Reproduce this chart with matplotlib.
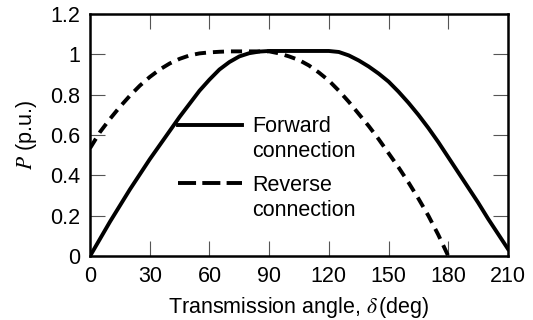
import matplotlib
matplotlib.use('Agg')
import matplotlib.pyplot as plt
from matplotlib.lines import Line2D
import numpy as np

plt.rc('font', family='Liberation Sans', size=15.5)
plt.rc('mathtext', fontset='stix')
plt.rc('lines', scale_dashes=False)

# transmission angle (deg) and power (p.u.)
delta_fwd = np.arange(0, 211, 5)
p_fwd = [0.00, 0.085, 0.17, 0.25, 0.33, 0.405, 0.48, 0.55, 0.62, 0.69,
         0.755, 0.82, 0.875, 0.925, 0.962, 0.99, 1.006, 1.014, 1.017, 1.017,
         1.017, 1.017, 1.017, 1.017, 1.017, 1.012, 0.995, 0.97, 0.94, 0.905,
         0.865, 0.815, 0.76, 0.7, 0.635, 0.565, 0.49, 0.415, 0.34, 0.265,
         0.185, 0.11, 0.035]

delta_rev = np.arange(0, 181, 5)
p_rev = [0.535, 0.615, 0.68, 0.74, 0.795, 0.845, 0.888, 0.925, 0.955, 0.978,
         0.995, 1.005, 1.01, 1.013, 1.015, 1.015, 1.015, 1.015, 1.015, 1.005,
         0.99, 0.972, 0.945, 0.91, 0.87, 0.82, 0.765, 0.705, 0.645, 0.58,
         0.51, 0.44, 0.365, 0.285, 0.2, 0.105, 0.0]

xticks = [0, 30, 60, 90, 120, 150, 180, 210]
yticks = [0, 0.2, 0.4, 0.6, 0.8, 1.0, 1.2]
ytick_labels = ['0', '0.2', '0.4', '0.6', '0.8', '1', '1.2']

fig = plt.figure(figsize=(5.33, 3.2), dpi=100)
ax = fig.add_axes([0.169, 0.2, 0.784, 0.756])

ax.plot(delta_fwd, p_fwd, color='k', lw=2.8, solid_joinstyle='round')
ax.plot(delta_rev, p_rev, color='k', lw=2.8, dashes=(8, 5))

ax.set_xlim(0, 210)
ax.set_ylim(0, 1.2)
ax.set_xticks(xticks)
ax.set_yticks(yticks)
ax.set_yticklabels(ytick_labels)
ax.tick_params(direction='in', length=11, width=0.8, color='#555555',
               top=True, right=True, pad=7)
for s in ax.spines.values():
    s.set_linewidth(1.8)

ax.set_xlabel('Transmission angle, $\\delta\\,$(deg)', labelpad=6)
ax.set_ylabel('$P$ (p.u.)', labelpad=8)

blank = Line2D([], [], linestyle='none')
h_fwd = Line2D([], [], color='k', lw=2.8)
h_rev = Line2D([], [], color='k', lw=2.8, dashes=(13, 4.5))
leg_kw = dict(frameon=False, loc='upper left', borderpad=0, borderaxespad=0,
              handlelength=3.0, handletextpad=0.45, labelspacing=0.18)
leg1 = ax.legend([h_fwd, blank], ['Forward', 'connection'],
                 bbox_to_anchor=(0.21, 0.578), **leg_kw)
ax.add_artist(leg1)
ax.legend([h_rev, blank], ['Reverse', 'connection'],
          bbox_to_anchor=(0.21, 0.335), **leg_kw)

plt.savefig('out.png', dpi=100)
